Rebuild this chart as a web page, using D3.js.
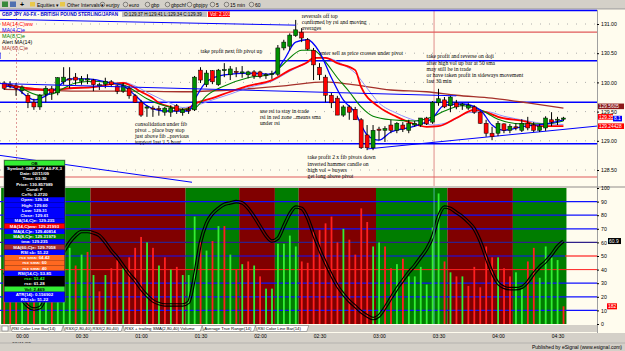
<!DOCTYPE html>
<html>
<head>
<meta charset="utf-8">
<script src="https://cdn.jsdelivr.net/npm/d3@7"></script>
<style>
  body { margin: 0; background: #d4d0c8; }
  svg { display: block; font-family: "Liberation Sans", Arial, sans-serif; }
</style>
</head>
<body>
<svg id="chart" width="625" height="351"></svg>
<script>
// ---- data (3 minute bars, GBP/JPY) ----
var barStart = new Date(2009, 1, 10, 23, 51);

var opens  = [129.99,129.96,129.94,129.86,129.78,129.66,129.58,129.80,129.89,129.82,
              130.01,130.06,130.09,130.02,130.04,130.04,129.94,129.97,130.01,129.94,
              129.85,129.90,129.77,129.66,129.56,129.56,129.55,129.49,129.49,129.60,
              129.48,129.53,129.53,130.21,129.96,130.20,129.96,130.20,130.13,130.19,
              130.16,130.13,130.18,130.18,130.12,130.14,130.14,130.59,130.62,130.80,
              130.86,130.73,130.55,130.26,130.09,129.78,129.73,129.44,129.58,129.54,
              129.36,129.10,128.88,129.20,129.18,129.27,129.18,129.27,129.18,129.27,
              129.27,129.39,129.32,129.65,129.70,129.60,129.65,129.61,129.56,129.58,
              129.49,129.30,129.13,129.13,129.29,129.18,129.24,129.18,129.30,129.27,
              129.18,129.22,129.36,129.36,129.37];
var highs  = [130.02,130.02,129.99,129.95,129.82,129.72,129.80,129.94,129.94,130.09,
              130.26,130.26,130.16,130.11,130.14,130.06,129.99,130.08,130.04,129.96,
              129.99,129.94,129.80,129.70,129.61,129.60,129.60,129.58,129.61,129.63,
              129.56,129.58,130.11,130.26,130.21,130.21,130.23,130.33,130.28,130.26,
              130.28,130.20,130.21,130.20,130.16,130.20,130.64,130.73,130.84,131.07,
              130.93,130.76,130.59,130.33,130.13,129.82,129.77,129.61,129.61,129.58,
              129.39,129.27,129.27,129.24,129.25,129.36,129.32,129.32,129.36,129.34,
              129.39,129.41,129.68,129.89,129.75,129.77,129.70,129.65,129.65,129.61,
              129.51,129.36,129.24,129.34,129.30,129.29,129.30,129.37,129.41,129.32,
              129.29,129.42,129.49,129.41,129.41];
var lows   = [129.87,129.90,129.77,129.80,129.56,129.53,129.53,129.66,129.70,129.78,
              129.96,129.90,129.96,129.96,129.97,129.85,129.87,129.90,129.92,129.80,
              129.82,129.72,129.65,129.41,129.41,129.41,129.43,129.43,129.41,129.46,
              129.43,129.46,129.51,129.99,129.92,129.97,129.94,130.09,130.04,130.09,
              130.08,130.07,130.06,130.07,130.06,130.06,130.11,130.55,130.55,130.78,
              130.69,130.55,130.04,130.04,129.66,129.56,129.44,129.41,129.36,129.36,
              128.86,128.84,128.84,129.01,128.98,129.13,129.13,129.15,129.13,129.24,
              129.24,129.27,129.29,129.60,129.56,129.49,129.54,129.53,129.53,129.46,
              129.29,129.07,129.01,129.08,129.13,129.13,129.18,129.15,129.18,129.15,
              129.15,129.17,129.25,129.27,129.34];
var closes = [129.90,129.94,129.90,129.92,129.66,129.58,129.78,129.90,129.82,130.08,
              130.09,130.04,130.04,130.06,130.06,129.96,129.96,130.02,129.96,129.85,
              129.94,129.77,129.66,129.44,129.58,129.55,129.54,129.56,129.56,129.51,
              129.53,129.52,130.09,130.04,130.16,130.01,130.21,130.22,130.23,130.17,
              130.18,130.18,130.11,130.10,130.14,130.15,130.59,130.69,130.81,130.90,
              130.76,130.57,130.30,130.13,129.78,129.65,129.44,129.58,129.49,129.36,
              128.88,128.88,129.18,129.18,129.21,129.18,129.30,129.20,129.30,129.30,
              129.39,129.29,129.66,129.72,129.58,129.75,129.58,129.63,129.61,129.49,
              129.30,129.13,129.07,129.30,129.18,129.25,129.22,129.30,129.22,129.18,
              129.25,129.39,129.32,129.37,129.39];

// volume, drawn on the 0-100 scale of the lower pane
var volumes = [40,35,45,30,50,45,55,35,38,60, 50,56,43,51,53,36,24,36,41,47,
               41,49,56,64,60,56,43,49,40,42, 36,36,79,60,54,61,72,72,51,40,
               44,46,43,35,26,26,59,59,65,57, 46,45,68,69,74,79,60,70,62,51,
               85,75,57,60,57,41,44,48,35,35, 42,29,71,96,46,38,35,35,28,42,
               27,57,49,49,41,35,38,26,46,56, 34,57,49,47,13];
var volColors = "rrrgrrggrgggrgrgrgrrgrrrgrgrgrgggrgrgrgrgrgrggggggrrrrrrrgrrrrggrrgrggggggrgrgrrrrrgrrggrrggggr";

// RSX line of the lower pane
var rsx = [38,32,25,18,13,11,12,20,33,45, 53,60,65,68,68,67,65,60,54,49,
           43,37,32,26,21,17,15,14,14,14, 14,16,35,60,74,81,85,88,89,90,
           89,85,79,72,65,61,63,72,81,86, 85,78,66,55,45,36,28,22,17,13,
           9,6,4,6,12,19,26,32,38,43, 49,55,64,79,86,85,82,79,75,70,
           61,49,38,30,27,26,26,27,31,37, 42,46,51,57,61];

// green / red background zones of the lower pane (first bar, last bar)
var zoneStart = [0, 15, 31, 40, 46, 50, 63, 75, 86];
var zoneEnd   = [14, 30, 39, 45, 49, 62, 74, 85, 94];
var zoneUp    = [true, false, true, false, true, false, true, false, true];

// moving averages, read at sample bars
var maRedBars  = [0,4,8,11,15,18,20,21,23,25,26,28,30,31,32,35,38,41,45,48,51,52,54,56,59,60,63,66,68,71,73,76,79,81,83,88,90,94];
var maRedVals  = [129.97,129.90,129.87,129.90,129.92,129.97,129.99,129.96,129.84,129.73,129.65,129.58,129.53,129.56,129.63,129.73,129.84,129.94,130.04,130.21,130.35,130.42,130.42,130.33,130.21,129.92,129.58,129.41,129.32,129.24,129.25,129.39,129.53,129.49,129.41,129.32,129.25,129.25];
var maLtBars   = [0,8,15,20,22,24,26,28,30,32,35,38,41,45,48,51,53,55,57,59,61,63,66,69,72,75,78,81,84,88,91,94];
var maLtVals   = [129.96,129.88,129.93,130.00,129.94,129.83,129.73,129.64,129.57,129.60,129.70,129.80,129.91,130.02,130.19,130.34,130.43,130.40,130.30,130.16,129.90,129.65,129.47,129.35,129.27,129.33,129.48,129.50,129.42,129.34,129.29,129.28];
var maBlueBars = [0,2,4,5,7,9,11,14,17,20,22,24,27,31,32,34,37,41,45,47,49,51,53,55,57,59,61,63,65,69,72,74,77,80,82,84,87,91,94];
var maBlueVals = [129.94,129.90,129.75,129.70,129.77,129.92,130.06,130.06,130.01,129.94,129.78,129.60,129.51,129.51,129.70,130.01,130.13,130.16,130.14,130.38,130.69,130.73,130.52,130.08,129.70,129.48,129.10,129.01,129.15,129.25,129.39,129.61,129.63,129.53,129.27,129.18,129.24,129.29,129.36];
var maGreenBars = [3,6,8,10,12,15,18,20,22,24,27,30,32,34,37,41,45,47,50,52,54,56,58,60,62,65,69,72,74,77,80,83,87,91,94];
var maGreenVals = [129.90,129.78,129.80,129.90,129.99,130.02,129.99,129.96,129.85,129.72,129.60,129.54,129.56,129.77,129.94,130.08,130.14,130.32,130.55,130.55,130.35,130.08,129.84,129.58,129.42,129.36,129.34,129.41,129.51,129.60,129.53,129.37,129.29,129.29,129.34];
var ma60Bars = [0,6,13,21,30,38,47,54,58,65,71,76,82,88,94];
var ma60Vals = [129.88,129.87,129.85,129.85,129.84,129.87,129.94,130.01,129.97,129.87,129.84,129.78,129.73,129.65,129.56];

var priceTicks = [131.00, 130.50, 130.00, 129.50, 129.00, 128.50];
var bluePivots = [130.37, 129.66, 128.95];
var redPivots  = [130.86, 128.38];
var paneTicks  = [100, 90, 80, 70, 60, 50, 40, 30, 20, 10, 0];
var paneBlue   = [90, 80, 70, 30, 20, 10];
var paneRed    = [40];

var notes = [
  { bar: 50, price: 131.10, lines: ["reversals off top", "confirmed by rsi and moving", "averages"] },
  { bar: 33, price: 130.51, lines: ["take profit next fib pivot up"] },
  { bar: 53, price: 130.47, lines: ["enter sell as price crosses under pivot"] },
  { bar: 71, price: 130.41, lines: ["take profit and reverse on doji", "after high vol up bar at 50 sma", "may still be in trade", "or have taken profit in sideways movement", "last 30 min"] },
  { bar: 43, price: 129.48, lines: ["use rsi to stay in trade", "rsi in red zone ..means sma", "under rsi"] },
  { bar: 22, price: 129.26, lines: ["consolidation under fib", "pivot .. place buy stop", "just above fib ..previous", "support last 1.5 hour"] },
  { bar: 51, price: 128.68, lines: ["take profit 2 x fib pivots down", "inverted hammer candle on", "high vol = buyers", "get long above pivot"] }
];

var infoRows = [
  ["OB", "#33ee33", "#000"], ["Symbol: GBP JPY A0-FX,3", "#000", "#fff"], ["Date: 02/11/09", "#000", "#fff"],
  ["Time: 03:30", "#000", "#fff"], ["Price: 130.857989", "#000", "#fff"], ["Cond: F", "#000", "#fff"],
  ["Cn%: 0.2720", "#000", "#fff"], ["Open: 129.34", "#0000ff", "#fff"], ["High: 129.60", "#0000ff", "#fff"],
  ["Low: 129.31", "#0000ff", "#fff"], ["Close: 129.61", "#0000ff", "#fff"], ["MA(14,C)e: 129.235", "#0000ff", "#fff"],
  ["MA(14,C)ww: 129.21993", "#ff0000", "#fff"], ["MA(4,C)e: 129.40814", "#0000ff", "#fff"], ["MA(8,C)e: 129.31979", "#008000", "#fff"],
  ["tma: 129.235", "#0000ff", "#fff"], ["MA(60,C)e: 129.7058", "#a52a2a", "#fff"], ["RSI sb: 51.22", "#0000ff", "#fff"],
  ["rsx sma: 64.42", "#ff6820", "#fff"], ["rsx sma: 60", "#ff6820", "#fff"], ["rsx sma: 40", "#ff6820", "#fff"],
  ["RSI(14,C): 53.85", "#0000ff", "#fff"], ["rsx: 53.42", "#000", "#33ff33"], ["rsx: 61.28", "#000", "#fff"],
  ["Vol: 2,469", "#33ee33", "#000"], ["ATR(14): 0.156902", "#0000ff", "#fff"], ["RSI sb: 51.22", "#0000ff", "#fff"]
];

// ---- layout ----
var svg = d3.select("#chart");
var plotRight = 597, dataRight = 565;
var priceTop = 10, priceBottom = 186, paneTop = 188, paneBottom = 325;
var n = closes.length;
var times = d3.range(n).map(function(i) { return d3.timeMinute.offset(barStart, 3 * i); });

var x = d3.scaleTime()
  .domain([new Date(2009, 1, 11, 0, 0), new Date(2009, 1, 11, 4, 30)])
  .range([22, 557.5]);
var yP = d3.scaleLinear().domain([128.5, 131]).range([170, 24]);
var yI = d3.scaleLinear().domain([0, 100]).range([324, 188]);
var xb = function(i) { return x(times[i]); };

// backgrounds
svg.append("rect").attr("width", 625).attr("height", 351).attr("fill", "#d4d0c8");
svg.append("rect").attr("x", 0).attr("y", priceTop).attr("width", 625).attr("height", 333 - priceTop).attr("fill", "#fffcee");

var clipP = svg.append("clipPath").attr("id", "clipP");
clipP.append("rect").attr("x", 0).attr("y", priceTop).attr("width", plotRight).attr("height", priceBottom - priceTop);

// price grid (dotted)
var gP = svg.append("g").attr("clip-path", "url(#clipP)");
gP.selectAll(".grid").data(priceTicks).enter().append("line")
  .attr("x1", 0).attr("x2", plotRight)
  .attr("y1", function(d) { return yP(d); }).attr("y2", function(d) { return yP(d); })
  .attr("stroke", "#9a9a9a").attr("stroke-width", 0.8).attr("stroke-dasharray", "1,8");

// day separator and crosshair
gP.append("line").attr("x1", 16.5).attr("x2", 16.5).attr("y1", priceTop).attr("y2", priceBottom)
  .attr("stroke", "#d88080").attr("stroke-dasharray", "2,2").attr("stroke-width", 0.8);
gP.append("line").attr("x1", xb(72) + 1.5).attr("x2", xb(72) + 1.5).attr("y1", priceTop).attr("y2", priceBottom)
  .attr("stroke", "#d87070").attr("stroke-width", 0.8);

// pivot lines
svg.append("line").attr("x1", 0).attr("x2", plotRight).attr("y1", 10.5).attr("y2", 10.5)
  .attr("stroke", "#0000ff").attr("stroke-width", 1.6);
gP.selectAll(".bp").data(bluePivots).enter().append("line")
  .attr("x1", 0).attr("x2", plotRight)
  .attr("y1", function(d) { return yP(d); }).attr("y2", function(d) { return yP(d); })
  .attr("stroke", "#0000ff").attr("stroke-width", 1.4);
gP.selectAll(".rp").data(redPivots).enter().append("line")
  .attr("x1", 0).attr("x2", plotRight)
  .attr("y1", function(d) { return yP(d); }).attr("y2", function(d) { return yP(d); })
  .attr("stroke", "#e05a5a").attr("stroke-width", 1.2);

// trend lines
gP.append("line").attr("x1", xb(61)).attr("y1", yP(128.86)).attr("x2", 625).attr("y2", yP(129.30))
  .attr("stroke", "#0000ff").attr("stroke-width", 1);
gP.append("line").attr("x1", 0).attr("y1", yP(128.75)).attr("x2", 192).attr("y2", yP(128.29))
  .attr("stroke", "#0000ff").attr("stroke-width", 1);

// moving averages
function maLine(bars, vals, color, width) {
  var pts = bars.map(function(b, k) { return [xb(b), yP(vals[k])]; });
  gP.append("path").attr("d", d3.line().curve(d3.curveMonotoneX)(pts))
    .attr("fill", "none").attr("stroke", color).attr("stroke-width", width);
}
maLine(ma60Bars, ma60Vals, "#a5302a", 1.3);
maLine(maLtBars, maLtVals, "#9090ff", 1);
maLine(maRedBars, maRedVals, "#ff0000", 1.8);
maLine(maGreenBars, maGreenVals, "#008000", 1.1);
maLine(maBlueBars, maBlueVals, "#0000ff", 1.3);

// candles
var candles = gP.selectAll(".c").data(d3.range(n)).enter().append("g");
candles.append("line")
  .attr("x1", function(i) { return xb(i); }).attr("x2", function(i) { return xb(i); })
  .attr("y1", function(i) { return yP(highs[i]); }).attr("y2", function(i) { return yP(lows[i]); })
  .attr("stroke", "#000").attr("stroke-width", 1);
candles.append("rect")
  .attr("x", function(i) { return xb(i) - 2; }).attr("width", 4)
  .attr("y", function(i) { return yP(Math.max(opens[i], closes[i])); })
  .attr("height", function(i) { return Math.max(1, Math.abs(yP(opens[i]) - yP(closes[i]))); })
  .attr("fill", function(i) { return closes[i] >= opens[i] ? "#009000" : "#ff0000"; })
  .attr("stroke", "#000").attr("stroke-width", 0.5);

// annotations
gP.selectAll(".note").data(notes).enter().append("text")
  .attr("font-family", "Liberation Serif, serif").attr("font-size", 5.6).attr("fill", "#000")
  .attr("transform", function(d) { return "translate(" + xb(d.bar) + "," + yP(d.price) + ")"; })
  .each(function(d) {
    d3.select(this).selectAll("tspan").data(d.lines).enter().append("tspan")
      .attr("x", 0).attr("dy", function(t, k) { return k === 0 ? 0 : 6.1; }).text(function(t) { return t; });
  });
// pointer strokes
var pointers = [[49, 130.98, 50.2, 131.08], [43.5, 130.51, 46.3, 130.40], [76, 129.77, 77.5, 129.98]];
gP.selectAll(".ptr").data(pointers).enter().append("line")
  .attr("x1", function(d) { return xb(d[0]); }).attr("y1", function(d) { return yP(d[1]); })
  .attr("x2", function(d) { return xb(d[2]); }).attr("y2", function(d) { return yP(d[3]); })
  .attr("stroke", "#0000ff").attr("stroke-width", 1);

// MA legend
var legend = [["MA(14,C)ww", "#ff0000"], ["MA(4,C)e", "#0000ff"], ["MA(8,C)e", "#008000"], ["Alert MA(14)", "#000"], ["MA(60,C)e", "#a5302a"]];
svg.selectAll(".leg").data(legend).enter().append("text")
  .attr("x", 2).attr("y", function(d, k) { return 26 + k * 5.9; })
  .attr("font-size", 5.4).attr("fill", function(d) { return d[1]; }).text(function(d) { return d[0]; });

// ---- lower pane ----
var clipI = svg.append("clipPath").attr("id", "clipI");
clipI.append("rect").attr("x", 0).attr("y", paneTop).attr("width", plotRight).attr("height", paneBottom - paneTop);
var gI = svg.append("g").attr("clip-path", "url(#clipI)");

gI.selectAll(".zone").data(zoneStart).enter().append("rect")
  .attr("x", function(s, k) { return xb(s) - 3; })
  .attr("width", function(s, k) { return xb(zoneEnd[k]) - xb(s) + 6; })
  .attr("y", paneTop).attr("height", 324 - paneTop)
  .attr("fill", function(s, k) { return zoneUp[k] ? "#007d00" : "#800000"; });

gI.selectAll(".pb").data(paneBlue).enter().append("line")
  .attr("x1", 0).attr("x2", plotRight)
  .attr("y1", function(d) { return yI(d); }).attr("y2", function(d) { return yI(d); })
  .attr("stroke", "#1010ff").attr("stroke-width", 1.2);
gI.selectAll(".pr").data(paneRed).enter().append("line")
  .attr("x1", 0).attr("x2", plotRight)
  .attr("y1", function(d) { return yI(d); }).attr("y2", function(d) { return yI(d); })
  .attr("stroke", "#ff2020").attr("stroke-width", 1);
gI.append("line").attr("x1", 0).attr("x2", plotRight).attr("y1", yI(60)).attr("y2", yI(60))
  .attr("stroke", "#30208a").attr("stroke-width", 1.4);
gI.append("line").attr("x1", 0).attr("x2", dataRight).attr("y1", yI(50)).attr("y2", yI(50))
  .attr("stroke", "#1010ff").attr("stroke-width", 1.2);
gI.append("line").attr("x1", dataRight).attr("x2", plotRight).attr("y1", yI(50)).attr("y2", yI(50))
  .attr("stroke", "#ff2020").attr("stroke-width", 1.2);

// volume bars
gI.selectAll(".vol").data(d3.range(n)).enter().append("rect")
  .attr("x", function(i) { return xb(i) - 0.8; }).attr("width", 1.8)
  .attr("y", function(i) { return yI(volumes[i]); })
  .attr("height", function(i) { return yI(0) - yI(volumes[i]); })
  .attr("fill", function(i) { return volColors[i] === "g" ? "#33ee33" : "#ff2020"; });

// RSX: black outlined line with a hollow centre
var rsxPath = d3.line().curve(d3.curveMonotoneX)
  .x(function(v, i) { return xb(i); }).y(function(v) { return yI(v); })(rsx);
var mask = svg.append("mask").attr("id", "hollow");
mask.append("rect").attr("x", 0).attr("y", 0).attr("width", 625).attr("height", 351).attr("fill", "#fff");
mask.append("path").attr("d", rsxPath).attr("fill", "none").attr("stroke", "#000").attr("stroke-width", 1.3);
gI.append("path").attr("d", rsxPath).attr("fill", "none").attr("stroke", "#000")
  .attr("stroke-width", 3.6).attr("mask", "url(#hollow)");

// cursor line in lower pane
gI.append("line").attr("x1", xb(72) + 1.5).attr("x2", xb(72) + 1.5).attr("y1", paneTop).attr("y2", 324)
  .attr("stroke", "#60c0c0").attr("stroke-width", 0.8);

// pane separators
svg.append("rect").attr("x", 0).attr("y", priceBottom).attr("width", 625).attr("height", 2).attr("fill", "#c8c4bc");
svg.append("line").attr("x1", plotRight + 0.5).attr("x2", plotRight + 0.5).attr("y1", priceTop).attr("y2", 333)
  .attr("stroke", "#a0a0a0").attr("stroke-width", 1);

// right axes
svg.append("g").attr("transform", "translate(" + plotRight + ",0)")
  .call(d3.axisRight(yP).tickValues(priceTicks).tickFormat(d3.format(".2f")).tickSize(2))
  .call(function(g) { g.select(".domain").remove(); g.selectAll("text").attr("font-size", 5.2).attr("x", 4); });
svg.append("g").attr("transform", "translate(" + plotRight + ",0)")
  .call(d3.axisRight(yI).tickValues(paneTicks).tickSize(2))
  .call(function(g) { g.select(".domain").remove(); g.selectAll("text").attr("font-size", 5.2).attr("x", 4); });

// value tags on the price axis
var tags = [[ma60Vals[ma60Vals.length - 1] + 0.03, "129.5605", "#8b1a1a", 26], [closes[n - 1] + 0.02, "129.35", "#ff0000", 15],
            [maRedVals[maRedVals.length - 1], "129.24428", "#ff0000", 26]];
tags.forEach(function(t) {
  svg.append("rect").attr("x", 598).attr("y", yP(t[0]) - 2.8).attr("width", t[3]).attr("height", 5.6).attr("fill", t[2]);
  svg.append("text").attr("x", 599).attr("y", yP(t[0]) + 1.8).attr("font-size", 4.8).attr("fill", "#fff").text(t[1]);
});
svg.append("rect").attr("x", 613).attr("y", yP(129.38) - 2.8).attr("width", 9).attr("height", 5.6).attr("fill", "#0000ff");
svg.append("text").attr("x", 614).attr("y", yP(129.38) + 1.8).attr("font-size", 4.8).attr("fill", "#fff").text("8.1");
svg.append("rect").attr("x", 608).attr("y", yI(rsx[n - 1]) - 3).attr("width", 13).attr("height", 6).attr("fill", "#000");
svg.append("text").attr("x", 609).attr("y", yI(rsx[n - 1]) + 2).attr("font-size", 5).attr("fill", "#fff").text("60.9");
svg.append("rect").attr("x", 607).attr("y", yI(volumes[n - 1]) - 3).attr("width", 10).attr("height", 6).attr("fill", "#ff0000");
svg.append("text").attr("x", 608).attr("y", yI(volumes[n - 1]) + 2).attr("font-size", 5).attr("fill", "#fff").text("182");

// info window
var info = svg.append("g").attr("transform", "translate(4,160)");
info.append("rect").attr("width", 61).attr("height", 142).attr("fill", "#000").attr("stroke", "#808080").attr("stroke-width", 0.6);
info.selectAll(".row").data(infoRows).enter().append("rect")
  .attr("x", 0.5).attr("y", function(d, k) { return 0.5 + k * 5.25; }).attr("width", 60).attr("height", 5.25)
  .attr("fill", function(d) { return d[1]; });
info.selectAll(".rowt").data(infoRows).enter().append("text")
  .attr("x", 30.5).attr("y", function(d, k) { return 4.6 + k * 5.25; }).attr("text-anchor", "middle")
  .attr("font-size", 4.4).attr("font-weight", "bold").attr("fill", function(d) { return d[2]; })
  .text(function(d) { return d[0]; });

// tab strip and time axis
svg.append("rect").attr("x", 0).attr("y", 325).attr("width", 597).attr("height", 7).attr("fill", "#d4d0c8");
var tabs = ["RSI Color Line Bar(14)", "RSX(2,80,40),RSX(2,80,40)", "RSX + trailing SMA(2,80,40) Volume", "Average True Range(14)", "RSI Color Line Bar(14)"];
var tx = 10;
tabs.forEach(function(t) {
  var w = t.length * 2.15 + 6;
  svg.append("path").attr("d", "M" + tx + ",325.5 h" + w + " l-2,6 h-" + (w - 4) + " z")
    .attr("fill", "#fff").attr("stroke", "#606060").attr("stroke-width", 0.5);
  svg.append("text").attr("x", tx + 2).attr("y", 330.4).attr("font-size", 4.3).attr("fill", "#000").text(t);
  tx += w;
});
svg.append("rect").attr("x", 2).attr("y", 326).attr("width", 6).attr("height", 5).attr("fill", "#fff").attr("stroke", "#606060").attr("stroke-width", 0.5);

svg.append("g").attr("transform", "translate(0,332)")
  .call(d3.axisBottom(x).ticks(d3.timeMinute.every(30)).tickFormat(d3.timeFormat("%H:%M")).tickSize(0))
  .call(function(g) { g.select(".domain").remove(); g.selectAll("text").attr("font-size", 5).attr("dy", "0.5em"); });
svg.append("text").attr("x", 12).attr("y", 346).attr("font-size", 5).text("02/11/09");

// status bar
svg.append("rect").attr("x", 0).attr("y", 343).attr("width", 625).attr("height", 8).attr("fill", "#d4d0c8");
svg.append("line").attr("x1", 0).attr("x2", 625).attr("y1", 343).attr("y2", 343).attr("stroke", "#a0a0a0").attr("stroke-width", 0.6);
svg.append("text").attr("x", 622).attr("y", 349).attr("text-anchor", "end").attr("font-size", 5).text("Published by eSignal (www.esignal.com)");

// toolbar
svg.append("rect").attr("x", 0).attr("y", 0).attr("width", 625).attr("height", 9).attr("fill", "#d4d0c8");
svg.append("line").attr("x1", 0).attr("x2", 625).attr("y1", 8.5).attr("y2", 8.5).attr("stroke", "#a0a0a0").attr("stroke-width", 0.6);
svg.append("rect").attr("x", 2).attr("y", 1.5).attr("width", 6).attr("height", 5.5).attr("fill", "#3a8a3a");
svg.append("rect").attr("x", 10).attr("y", 1.5).attr("width", 6).attr("height", 5.5).attr("fill", "#5070b0");
svg.append("text").attr("x", 20).attr("y", 6.5).attr("font-size", 7).attr("font-weight", "bold").text("+");
var tools = [["Equities \u25be", 37, true], ["Other Intervals \u25be", 67, true], ["eurjpy", 106, false], ["euro", 129, false],
             ["gbp", 151, false], ["gbpchf", 171, false], ["gbpjpy", 193, false], ["5", 216, false], ["15 min", 230, false], ["60", 255, false]];
tools.forEach(function(t) {
  if (t[2]) svg.append("rect").attr("x", t[1] - 7).attr("y", 2).attr("width", 5).attr("height", 4.5).attr("fill", "#e8c84a");
  else svg.append("circle").attr("cx", t[1] - 3.5).attr("cy", 4.5).attr("r", 2.3).attr("fill", "none").attr("stroke", "#333").attr("stroke-width", 0.5);
  svg.append("text").attr("x", t[1]).attr("y", 6.5).attr("font-size", 5).text(t[0]);
});

// title row
svg.append("text").attr("x", 2).attr("y", 16.3).attr("font-size", 4.8).attr("font-weight", "bold").attr("fill", "#0000cc")
  .attr("textLength", 116).attr("lengthAdjust", "spacingAndGlyphs")
  .text("GBP JPY A0-FX - BRITISH POUND STERLING/JAPAN");
svg.append("rect").attr("x", 122).attr("y", 11.5).attr("width", 85).attr("height", 5.5).attr("fill", "#c0c0c0");
svg.append("text").attr("x", 124).attr("y", 16).attr("font-size", 4.6)
  .text("O:" + opens[n - 1].toFixed(2) + "  H:" + highs[n - 1].toFixed(2) + "  L:" + lows[n - 1].toFixed(2) + "  C:" + closes[n - 1].toFixed(2));
svg.append("rect").attr("x", 208).attr("y", 11.5).attr("width", 22).attr("height", 5.5).attr("fill", "#ff0000");
svg.append("text").attr("x", 210).attr("y", 16).attr("font-size", 4.6).attr("fill", "#fff").text("Vol: 2,101");
</script>
</body>
</html>
